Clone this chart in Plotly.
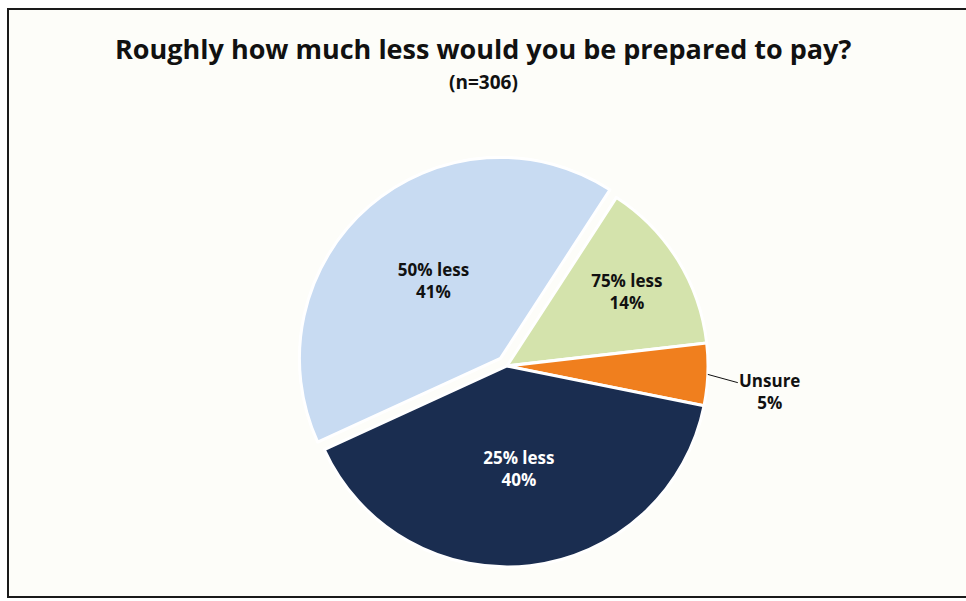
import math
import plotly.graph_objects as go

labels = ["75% less", "Unsure", "25% less", "50% less"]
values = [14, 5, 40, 41]
colors = ["#d4e3ac", "#f07f1e", "#1a2d50", "#c8dbf2"]
text_colors = ["#111111", "#111111", "#ffffff", "#111111"]
positions = ["inside", "none", "inside", "inside"]
pulls = [0.0, 0.0, 0.0, 0.05]
title_text = "Roughly how much less would you be prepared to pay?"
subtitle_text = "(n=306)"

W, H = 966, 601
cx, cy, R = 507, 366, 201
half = R * 1.05
rotation = 33
FONT = "Open Sans, DejaVu Sans, sans-serif"

fig = go.Figure(go.Pie(
    labels=labels,
    values=values,
    sort=False,
    direction="clockwise",
    rotation=rotation,
    pull=pulls,
    marker=dict(colors=colors, line=dict(color="#ffffff", width=3)),
    texttemplate="<b>%{label}<br>%{value}%</b>",
    textposition=positions,
    insidetextorientation="horizontal",
    textfont=dict(family=FONT, size=17, color=text_colors),
    showlegend=False,
    hoverinfo="label+percent",
    domain=dict(x=[(cx - half) / W, (cx + half) / W],
                y=[1 - (cy + half) / H, 1 - (cy - half) / H]),
))

# leader-line label for the small slice, placed at its mid-angle
total = sum(values)
start = sum(values[:1]) / total * 360
mid = rotation + start + values[1] / total * 360 / 2
ex = cx + R * math.sin(math.radians(mid))
ey = cy - R * math.cos(math.radians(mid))

fig.update_layout(
    width=W, height=H,
    margin=dict(l=0, r=0, t=0, b=0),
    paper_bgcolor="#ffffff",
    shapes=[
        dict(type="rect", xref="paper", yref="paper",
             x0=8 / W, x1=1.01, y0=1 - 597 / H, y1=1 - 9 / H,
             line=dict(color="#1a1a1a", width=2), fillcolor="#fdfdf9", layer="below"),
    ],
    annotations=[
        dict(text="<b>" + title_text + "</b>",
             x=0.5, y=1 - 48 / H, xref="paper", yref="paper", showarrow=False,
             yanchor="middle",
             font=dict(family=FONT, size=27, color="#111111")),
        dict(text="<b>" + subtitle_text + "</b>",
             x=0.5, y=1 - 82 / H, xref="paper", yref="paper", showarrow=False,
             yanchor="middle",
             font=dict(family=FONT, size=19, color="#111111")),
        dict(text="<b>%s<br>%d%%</b>" % (labels[1], values[1]),
             x=ex / W, y=1 - ey / H, xref="paper", yref="paper",
             showarrow=True, arrowhead=0, arrowwidth=1, arrowcolor="#111111",
             ax=62, ay=17, xanchor="center", yanchor="middle",
             font=dict(family=FONT, size=17, color="#111111")),
    ],
)

fig.write_html("out.html", post_script="document.body.style.margin='0';",
               config={"displayModeBar": False})
